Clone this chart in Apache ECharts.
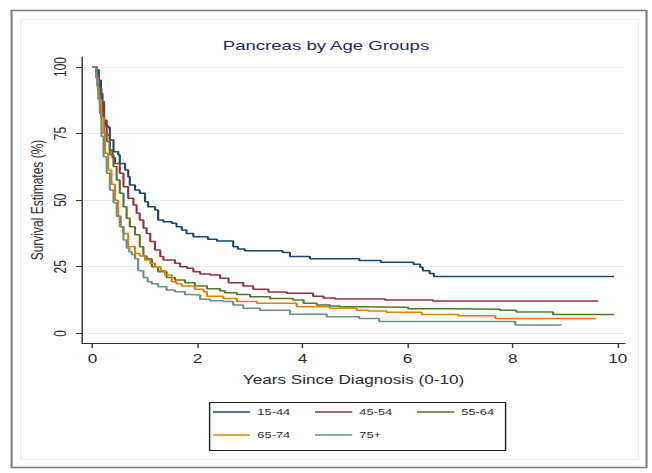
<!DOCTYPE html>
<html>
<head>
<meta charset="utf-8">
<script src="https://cdn.jsdelivr.net/npm/echarts@6/dist/echarts.min.js"></script>
<style>
  html, body { margin: 0; padding: 0; background: #fff; }
  #frame { width: 652px; height: 473px; overflow: hidden; }
  /* the chart is laid out at a narrower width and widened to the page */
  #chart { width: 456px; height: 473px; transform: scaleX(1.4298); transform-origin: 0 0; }
</style>
</head>
<body>
<div id="frame"><div id="chart"></div></div>
<script>
// Kaplan-Meier survival estimates (%) by age group, years since diagnosis
const groupNames = ['15-44', '45-54', '55-64', '65-74', '75+'];

const years15_44 = [0, 0.08, 0.12, 0.16, 0.19, 0.22, 0.24, 0.30, 0.33, 0.40, 0.49, 0.52, 0.62, 0.68, 0.71, 0.81, 0.90, 1.00, 1.06, 1.19, 1.25, 1.35, 1.51, 1.60, 1.70, 1.79, 1.92, 2.20, 2.37, 2.68, 2.77, 2.90, 3.62, 3.76, 4.14, 5.08, 5.49, 6.11, 6.24, 6.29, 6.42, 6.50, 9.93];
const surv15_44  = [100, 99, 95, 90, 86, 80, 77.8, 77.3, 72.6, 68.2, 67, 63.8, 61.3, 58.8, 55.7, 53.8, 52.6, 49.4, 47.5, 46.3, 42.5, 41.9, 41.3, 40, 38.8, 37.5, 36.3, 35.3, 34.7, 32.5, 31.7, 31.0, 30.3, 28.8, 28.0, 27.3, 26.7, 25.9, 24.8, 23.5, 22.5, 21.3, 21.3];

const years45_54 = [0, 0.08, 0.12, 0.17, 0.22, 0.27, 0.33, 0.38, 0.43, 0.52, 0.59, 0.68, 0.78, 0.84, 0.90, 0.97, 1.03, 1.10, 1.19, 1.29, 1.35, 1.57, 1.67, 1.80, 1.92, 2.05, 2.24, 2.43, 2.59, 2.87, 3.06, 3.35, 3.70, 4.20, 4.40, 4.62, 5.57, 6.48, 9.63];
const surv45_54  = [100, 97, 92, 87, 80, 74.5, 68.8, 66, 63.8, 60.1, 55, 50.7, 48.2, 45.1, 42.5, 39.5, 37.5, 34.5, 31.3, 28.8, 27.5, 26.3, 25, 24.4, 23.1, 22.3, 21.9, 20.7, 19, 17.8, 16.5, 15.5, 15, 13.9, 13.3, 12.9, 12.5, 12.1, 12.1];

const years55_64 = [0, 0.08, 0.11, 0.14, 0.18, 0.22, 0.27, 0.33, 0.40, 0.46, 0.52, 0.59, 0.65, 0.71, 0.81, 0.90, 0.97, 1.03, 1.13, 1.25, 1.41, 1.57, 1.76, 1.95, 2.18, 2.43, 2.52, 2.75, 3.00, 3.38, 3.82, 4.02, 4.27, 4.52, 4.71, 5.03, 6.01, 6.90, 7.76, 8.07, 8.77, 9.93];
const surv55_64  = [100, 96, 91, 87.6, 81, 75, 72, 67, 62.6, 57.6, 52.6, 47.5, 43.2, 40, 37, 32.5, 29, 28, 25, 23.1, 21, 20, 19, 17.8, 16.7, 16, 15.2, 14.6, 13.7, 13.1, 12.5, 11.3, 10.6, 10.3, 10, 9.8, 9.2, 9.0, 8.7, 8.0, 7.1, 7.1];

const years65_74 = [0, 0.07, 0.10, 0.12, 0.16, 0.21, 0.24, 0.30, 0.36, 0.43, 0.49, 0.54, 0.59, 0.68, 0.81, 0.90, 1.00, 1.10, 1.19, 1.30, 1.38, 1.51, 1.60, 1.70, 1.95, 2.11, 2.18, 2.49, 2.75, 3.13, 3.89, 4.52, 5.03, 5.25, 5.60, 6.27, 6.97, 7.67, 9.59];
const surv65_74  = [100, 96, 92, 87.6, 81, 75, 67.6, 61.3, 56, 50, 44, 40, 37.5, 32.5, 30, 29, 27.5, 26.3, 25, 23.5, 21.9, 19.4, 18.6, 17.8, 16.5, 15.6, 13.9, 13.1, 11.9, 11.3, 10, 9.4, 8.7, 8.4, 7.9, 7.1, 6.6, 5.6, 5.6];

const years75up = [0, 0.07, 0.09, 0.11, 0.14, 0.17, 0.21, 0.27, 0.33, 0.40, 0.46, 0.52, 0.59, 0.65, 0.70, 0.75, 0.81, 0.87, 0.97, 1.05, 1.13, 1.25, 1.41, 1.57, 1.76, 1.86, 2.05, 2.24, 2.49, 2.68, 2.87, 3.19, 3.76, 4.46, 5.08, 5.46, 8.05, 8.94];
const surv75up  = [100, 96, 93, 88, 82.6, 74, 66.3, 60.1, 53.8, 49, 44, 40, 35, 32, 30.5, 29.5, 28, 23.5, 21, 19.4, 18.6, 17.5, 16.3, 15.6, 14.6, 14.4, 12.8, 12.2, 11.9, 10.6, 9.4, 8.7, 7.2, 6.2, 5.6, 4.4, 3.1, 3.1];

const xTicks = [0, 2, 4, 6, 8, 10];
const yTicks = [0, 25, 50, 75, 100];

const groupYears = [years15_44, years45_54, years55_64, years65_74, years75up];
const groupSurv = [surv15_44, surv45_54, surv55_64, surv65_74, surv75up];
const groupColors = ['#1a476f', '#90353b', '#55752f', '#e37e00', '#6e8e84'];

const FONT = '"Liberation Sans", Arial, Helvetica, sans-serif';
const TEXT = '#2b2b2b';

const chart = echarts.init(document.getElementById('chart'), null, { renderer: 'svg' });

const series = groupNames.map((name, g) => ({
  name: name,
  type: 'line',
  step: 'end',
  symbol: 'none',
  animation: false,
  lineStyle: { color: groupColors[g], width: 1.5 },
  itemStyle: { color: groupColors[g] },
  data: groupYears[g].map((t, i) => [t, groupSurv[g][i]])
}));

// legend keys are plain line samples
const legendCommon = {
  left: 149,
  orient: 'horizontal',
  icon: 'rect',
  itemWidth: 26,
  itemHeight: 1.6,
  itemGap: 17.3,
  selectedMode: false,
  padding: 0,
  textStyle: { fontFamily: FONT, fontSize: 9, color: TEXT, lineHeight: 12 }
};

chart.setOption({
  backgroundColor: '#ffffff',
  animation: false,
  title: {
    text: 'Pancreas by Age Groups',
    left: 'center',
    top: 39,
    padding: 0,
    textStyle: { fontFamily: FONT, fontSize: 13, fontWeight: 'normal', color: '#1c2b5a' }
  },
  grid: { left: 57.35, top: 57, width: 379.8, height: 286, containLabel: false },
  xAxis: {
    type: 'value',
    min: -0.2,
    max: 10.14,
    name: 'Years Since Diagnosis (0-10)',
    nameLocation: 'middle',
    nameGap: 31,
    nameTextStyle: { fontFamily: FONT, fontSize: 12, color: TEXT },
    axisLine: { show: true, onZero: false, lineStyle: { color: '#333', width: 1 } },
    axisTick: { show: true, length: 5, customValues: xTicks, lineStyle: { color: '#333' } },
    axisLabel: { customValues: xTicks, margin: 10, fontFamily: FONT, fontSize: 12, color: TEXT },
    splitLine: { show: false }
  },
  yAxis: {
    type: 'value',
    min: -3.64,
    max: 103.75,
    name: 'Survival Estimates (%)',
    nameLocation: 'middle',
    nameGap: 25.5,
    nameMoveOverlap: false,
    nameTextStyle: { fontFamily: FONT, fontSize: 12, color: TEXT },
    axisLine: { show: true, onZero: false, lineStyle: { color: '#333', width: 1 } },
    axisTick: { show: true, length: 4.2, customValues: yTicks, lineStyle: { color: '#333' } },
    axisLabel: { customValues: yTicks, rotate: 90, margin: 9, fontFamily: FONT, fontSize: 12, color: TEXT },
    splitLine: { show: true, lineStyle: { color: '#e6eef2', width: 1.2 } }
  },
  legend: [
    Object.assign({}, legendCommon, { top: 406, data: groupNames.slice(0, 3) }),
    Object.assign({}, legendCommon, { top: 429, data: groupNames.slice(3) })
  ],
  graphic: [
    { type: 'rect', left: 5.6, top: 8, shape: { width: 444.1, height: 457 },
      style: { fill: null, stroke: '#7a7a7a', lineWidth: 1.4 }, silent: true },
    { type: 'rect', left: 12, top: 17, shape: { width: 432, height: 440 },
      style: { fill: null, stroke: '#eaf1f4', lineWidth: 1 }, silent: true },
    { type: 'rect', left: 144.1, top: 400, shape: { width: 207, height: 48 },
      style: { fill: null, stroke: '#222', lineWidth: 1 }, silent: true }
  ],
  series: series
});
</script>
</body>
</html>
